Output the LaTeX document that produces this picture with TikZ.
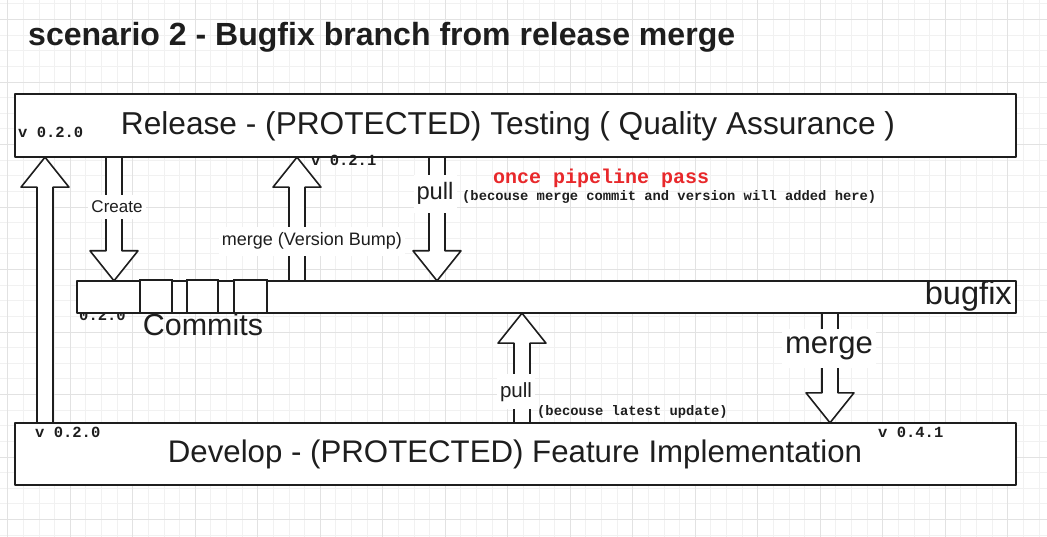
\documentclass[tikz,border=0pt]{standalone}
\usepackage{fontspec}
\setmainfont{Liberation Sans}
\newfontfamily\monof{Liberation Mono}
\usepackage{graphicx}
\usetikzlibrary{calc}
\definecolor{minorg}{HTML}{F1F1F1}
\definecolor{majorg}{HTML}{E2E2E2}
\definecolor{inkc}{HTML}{1E1E1E}
\definecolor{redt}{HTML}{E8282B}
\newcommand\fitw[2]{\resizebox{#1}{!}{#2}}
% block arrow: #1 name, #2 x position, #3 start anchor, #4 tip anchor
\newcommand\barrow[4]{%
  \coordinate (#1x) at (#2,0);
  \coordinate (#1s) at (#1x |- #3);
  \coordinate (#1t) at (#1x |- #4);
  \coordinate (#1b) at ($(#1t)!30pt!(#1s)$);
  \draw[blk] ($(#1s)+(-8,0)$) -- ($(#1b)+(-8,0)$) -- ($(#1b)+(-24,0)$) -- (#1t)
     -- ($(#1b)+(24,0)$) -- ($(#1b)+(8,0)$) -- ($(#1s)+(8,0)$);
}
\begin{document}
\begin{tikzpicture}[x=1pt,y=-1pt,
  boxfill/.style={fill=white, draw=none, inner sep=0pt},
  border/.style={draw=inkc, line width=1.8pt, line join=round},
  blk/.style={draw=inkc, line width=1.6pt, fill=white, line join=round},
  hand/.style={inner sep=0pt, text=inkc},
  bglbl/.style={fill=white, inner xsep=3pt, inner ysep=6pt, text=inkc},
  mono/.style={inner sep=0pt, text=inkc, font=\monof\bfseries\fontsize{15.5}{16}\selectfont},
  small/.style={inner sep=0pt, text=inkc, font=\monof\bfseries\fontsize{13.8}{14}\selectfont}]
\useasboundingbox (0,0) rectangle (1047,537);
\fill[white] (0,0) rectangle (1047,537);
% grid
\foreach \i in {0,...,66} \draw[minorg, line width=0.7pt] ({7.6+15.625*\i},0) -- ({7.6+15.625*\i},537);
\foreach \i in {0,...,34} \draw[minorg, line width=0.7pt] (0,{3.8+15.625*\i}) -- (1047,{3.8+15.625*\i});
\foreach \i in {0,...,16} \draw[majorg, line width=0.7pt] ({7.6+62.5*\i},0) -- ({7.6+62.5*\i},537);
\foreach \i in {0,...,8} \draw[majorg, line width=0.7pt] (0,{19.4+62.5*\i}) -- (1047,{19.4+62.5*\i});

% title
\node[hand, anchor=base west] (title) at (28,46) {\fitw{707pt}{\bfseries scenario 2 - Bugfix branch from release merge}};

% small label partly hidden under the bugfix bar
\node[mono, anchor=base west] (vbug) at (79,321) {0.2.0};

% boxes (fills)
\node[boxfill, minimum width=1001pt, minimum height=63pt] (rel) at (515.5,125.5) {};
\node[boxfill, minimum width=939pt, minimum height=32pt] (bug) at (546.5,297) {};
\node[boxfill, minimum width=1001pt, minimum height=62pt] (dev) at (515.5,454) {};

% block arrows
\barrow{aone}{45}{dev.north}{rel.south}
\barrow{acreate}{114}{rel.south}{bug.north}
\barrow{abump}{297}{bug.north}{rel.south}
\barrow{apulltop}{437}{rel.south}{bug.north}
\barrow{apullbot}{522}{dev.north}{bug.south}
\barrow{amerge}{830}{bug.south}{dev.north}

% box borders
\draw[border] (rel.north west) rectangle (rel.south east);
\draw[border] (bug.north west) rectangle (bug.south east);
\draw[border] (dev.north west) rectangle (dev.south east);

% commits
\node[draw=inkc, line width=1.5pt, fill=white, minimum width=32pt, minimum height=33pt, inner sep=0pt] (c1) at (156,296.5) {};
\node[draw=inkc, line width=1.5pt, fill=white, minimum width=31pt, minimum height=33pt, inner sep=0pt] (c2) at (202.5,296.5) {};
\node[draw=inkc, line width=1.5pt, fill=white, minimum width=33pt, minimum height=33pt, inner sep=0pt] (c3) at (250.5,296.5) {};

% box texts
\node[hand, anchor=base] (reltext) at (508,135) {\fitw{774pt}{Release - (PROTECTED) Testing ( Quality Assurance )}};
\node[hand, anchor=base] (devtext) at (515,462) {\fitw{694pt}{Develop - (PROTECTED) Feature Implementation}};
\node[hand, anchor=base east] (bugtext) at (1012,305) {\fitw{87pt}{bugfix}};
\node[hand, anchor=base] (commits) at (203,336) {\fitw{120pt}{Commits}};

% version labels
\node[mono, anchor=base west] (vrel) at (18,138) {v 0.2.0};
\node[mono, anchor=base west] (vbump) at (311,166) {v 0.2.1};
\node[mono, anchor=base west] (vdev) at (35,437) {v 0.2.0};
\node[mono, anchor=base west] (vdev2) at (878,437) {v 0.4.1};

% arrow labels
\node[bglbl, anchor=base] (lcreate) at (117,213) {\fitw{51pt}{Create}};
\node[bglbl, anchor=base] (lbump) at (312,246) {\fitw{180pt}{merge (Version Bump)}};
\node[bglbl, inner ysep=8pt, anchor=base] (lpulltop) at (435,200) {\fitw{37pt}{pull}};
\node[bglbl, inner ysep=8pt, anchor=base] (lpullbot) at (516,397) {\fitw{32pt}{pull}};
\node[bglbl, inner ysep=8pt, anchor=base] (lmerge) at (829,354) {\fitw{88pt}{merge}};

% notes
\node[inner sep=0pt, text=redt, anchor=base west, font=\monof\bfseries\fontsize{20}{20}\selectfont] (npipe) at (493,184) {once pipeline pass};
\node[small, anchor=base west] (nwhy) at (462,201) {(becouse merge commit and version will added here)};
\node[small, anchor=base west] (nlatest) at (537,415) {(becouse latest update)};
\end{tikzpicture}
\end{document}
